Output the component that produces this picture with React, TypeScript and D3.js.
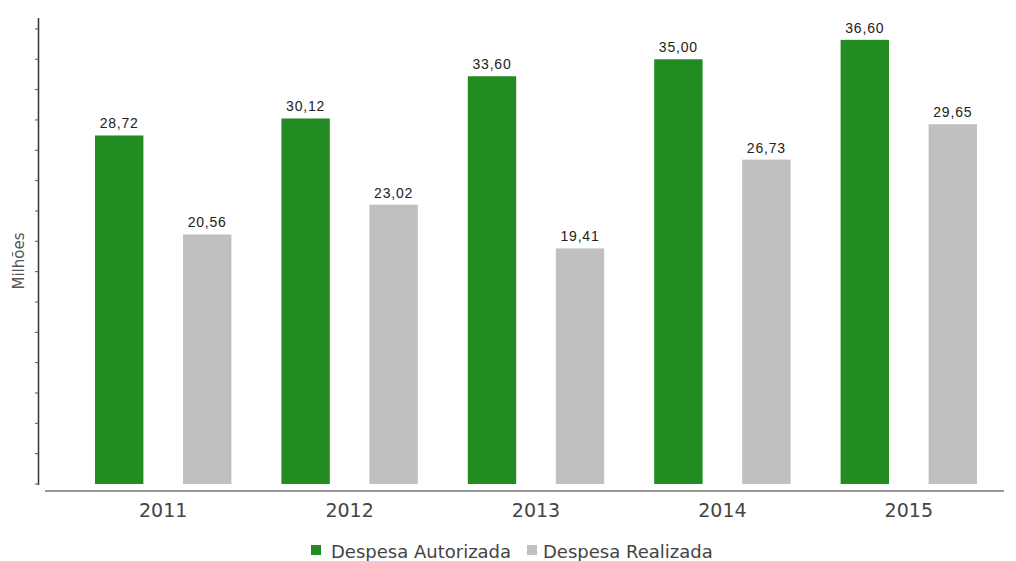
import * as d3 from "d3";

const years = ["2011", "2012", "2013", "2014", "2015"];
const autorizada = [28.72, 30.12, 33.6, 35.0, 36.6];
const realizada = [20.56, 23.02, 19.41, 26.73, 29.65];
const seriesNames = ["Despesa Autorizada", "Despesa Realizada"];
const seriesColors = ["#228b22", "#c0c0c0"];

const W = 1016;
const H = 561;
const fmt = (v: number) => v.toFixed(2).replace(".", ",");

export default function App() {
  const x = d3.scaleBand().domain(years).range([70, 1002]);
  const inner = d3
    .scaleBand()
    .domain(seriesNames)
    .range([25, x.bandwidth() - 25])
    .paddingInner(0.45);
  const y = d3.scaleLinear().domain([0, 38.4]).range([484, 18]);
  const ticks = d3.range(0, 38.4, 2.5);

  const series = [autorizada, realizada];

  return (
    <svg width={W} height={H} style={{ position: "absolute", left: 0, top: 0 }}>
      <rect width={W} height={H} fill="#fff" />
      {/* y axis */}
      <line x1={38.5} x2={38.5} y1={y(38.4)} y2={y(0) + 1} stroke="#333" strokeWidth={1.5} />
      {ticks.map((t) => (
        <line key={t} x1={35} x2={38.5} y1={y(t)} y2={y(t)} stroke="#555" strokeWidth={1} />
      ))}
      <text
        transform={`translate(24,${261}) rotate(-90)`}
        textAnchor="middle"
        fontFamily="DejaVu Sans, Verdana, sans-serif"
        fontSize={15}
        fill="#555"
      >
        Milhões
      </text>
      {/* bars */}
      {years.map((yr, i) => (
        <g key={yr} transform={`translate(${x(yr)},0)`}>
          {series.map((s, k) => {
            const bx = inner(seriesNames[k]) ?? 0;
            const v = s[i];
            return (
              <g key={k}>
                <rect
                  x={bx}
                  y={y(v)}
                  width={inner.bandwidth()}
                  height={y(0) - y(v)}
                  fill={seriesColors[k]}
                />
                <text
                  x={bx + inner.bandwidth() / 2}
                  y={y(v) - 7}
                  textAnchor="middle"
                  fontFamily="Liberation Sans, Arial, sans-serif"
                  fontSize={14}
                  letterSpacing={0.8}
                  fill="#222"
                >
                  {fmt(v)}
                </text>
              </g>
            );
          })}
          <text
            x={x.bandwidth() / 2}
            y={517}
            textAnchor="middle"
            fontFamily="DejaVu Sans, Verdana, sans-serif"
            fontSize={19}
            fill="#444"
          >
            {yr}
          </text>
        </g>
      ))}
      {/* x axis */}
      <line x1={45} x2={1004} y1={491} y2={491} stroke="#777" strokeWidth={1.5} />
      {/* legend */}
      <g fontFamily="DejaVu Sans, Verdana, sans-serif" fontSize={18} fill="#444">
        <rect x={311} y={545} width={10} height={10} fill={seriesColors[0]} />
        <text x={331} y={558}>{seriesNames[0]}</text>
        <rect x={527} y={545} width={10} height={10} fill={seriesColors[1]} />
        <text x={543} y={558}>{seriesNames[1]}</text>
      </g>
    </svg>
  );
}
